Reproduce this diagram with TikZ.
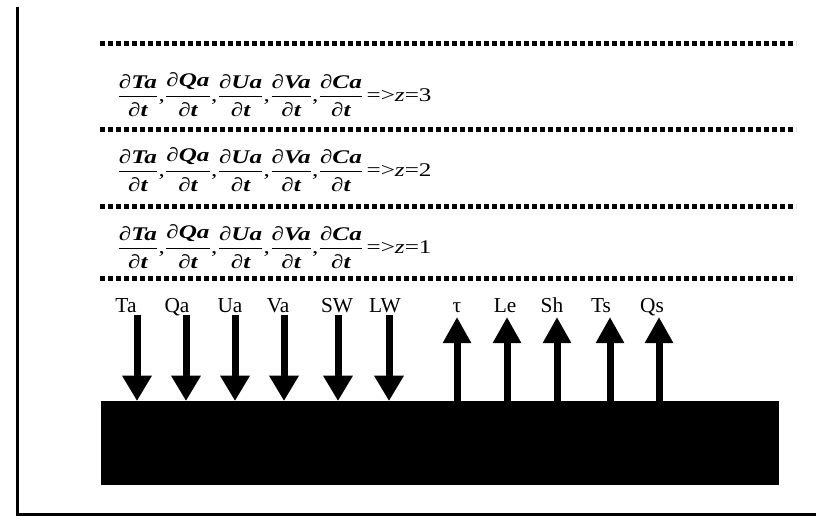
\documentclass[tikz,border=0pt]{standalone}
\usepackage{fontspec}
\usepackage{amsmath}
\setmainfont{Liberation Serif}
\newfontfamily\eqfont[FakeStretch=1.3]{Liberation Serif}
\usetikzlibrary{arrows.meta}

% one partial derivative, bold italic
\newcommand{\pd}[1]{$\genfrac{}{}{1.4pt}{0}{\mbox{\bfseries\itshape ∂#1}}{\mbox{\bfseries\itshape ∂t}}$}

\begin{document}
\begin{tikzpicture}[
  x=0.75pt, y=-0.75pt,
  dotline/.style={line width=3.75pt, dash pattern=on 3.75pt off 2.25pt},
  eqrow/.style={anchor=west, inner sep=0pt, font=\eqfont\fontsize{14.5}{16}\selectfont},
  lab/.style={anchor=base, inner sep=0pt, font=\fontsize{16}{18}\selectfont},
  dn/.style={line width=5.25pt, -{Triangle[width=21pt, length=19pt]}},
  up/.style={line width=5.25pt, -{Triangle[width=20pt, length=19.5pt]}},
  ground/.style={fill=black, inner sep=0pt, anchor=north west,
                 minimum width=508.5pt, minimum height=63pt}
]
\useasboundingbox (0,0) rectangle (816,516);

% ---------------- frame ----------------
\draw[line width=2.25pt] (17,7) -- (17,514) -- (816,514);

% ---------------- layers ----------------
\foreach \y in {44,130,207,279}
  \draw[dotline] (100,\y) -- (796,\y);

\node[eqrow] (row3) at (117,95)  {\pd{Ta},\pd{Qa},\pd{Ua},\pd{Va},\pd{Ca}\,=>\textit{z}=3};
\node[eqrow] (row2) at (117,170) {\pd{Ta},\pd{Qa},\pd{Ua},\pd{Va},\pd{Ca}\,=>\textit{z}=2};
\node[eqrow] (row1) at (117,247) {\pd{Ta},\pd{Qa},\pd{Ua},\pd{Va},\pd{Ca}\,=>\textit{z}=1};

% ---------------- surface ----------------
\node[ground] (ground) at (101,401) {};

% fluxes down to the surface
\foreach \n/\t/\lx/\ax in {ta/Ta/126/137, qa/Qa/177/186, ua/Ua/230/235,
                           va/Va/278/284, sw/SW/337/338, lw/LW/385/389} {
  \node[lab] (\n) at (\lx,312) {\t};
  \coordinate (\n-top) at (\ax,315);
  \draw[dn] (\n-top) -- (\n-top |- ground.north);
}

% fluxes up from the surface
\foreach \n/\t/\lx/\ax in {tau/τ/457/457, le/Le/505/507, sh/Sh/552/557,
                           ts/Ts/601/610, qs/Qs/652/659} {
  \node[lab] (\n) at (\lx,312) {\t};
  \coordinate (\n-tip) at (\ax,317);
  \draw[up] (\n-tip |- ground.north) -- (\n-tip);
}

\end{tikzpicture}
\end{document}
